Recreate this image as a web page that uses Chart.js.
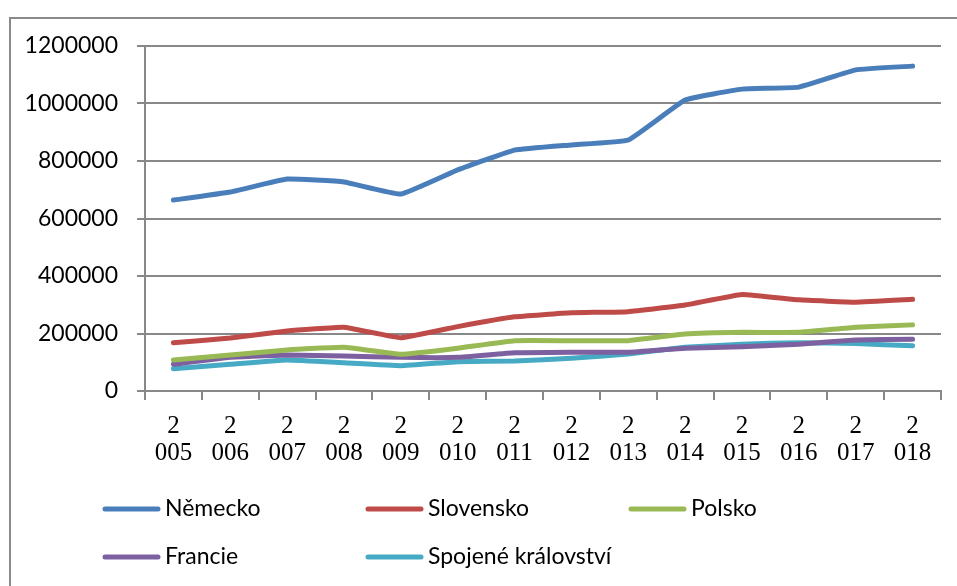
<!DOCTYPE html>
<html>
<head>
<meta charset="utf-8">
<script src="https://cdn.jsdelivr.net/npm/chart.js@4/dist/chart.umd.min.js"></script>
<style>
    body { margin: 0; background: #fff; overflow: hidden; }
    #ramecek { position: absolute; left: 9px; top: 17px; width: 1000px; height: 700px;
        border-left: 2px solid #8a8a8a; border-top: 2px solid #8a8a8a; }
    #graf { position: absolute; left: 0; top: 0; }
</style>
</head>
<body>
<div id="ramecek"></div>
<canvas id="graf" width="957" height="586"></canvas>
<script>
/*
 *   Graf vývoje podle zemí 2005-2018
 */

var roky = ['2005', '2006', '2007', '2008', '2009', '2010', '2011', '2012', '2013', '2014', '2015', '2016', '2017', '2018'];

var nemecko = [664000, 692000, 737000, 727000, 685000, 769000, 838000, 856000, 873000, 1012000, 1050000, 1057000, 1117000, 1130000];
var slovensko = [168000, 184000, 209000, 222000, 185000, 224000, 258000, 272000, 276000, 299000, 336000, 317000, 309000, 319000];
var polsko = [108000, 125000, 143000, 152000, 128000, 149000, 175000, 175000, 175000, 198000, 204000, 204000, 222000, 230000];
var francie = [93000, 117000, 125000, 122000, 117000, 117000, 133000, 135000, 135000, 149000, 154000, 163000, 177000, 180000];
var spojene = [77000, 93000, 108000, 98000, 88000, 102000, 104000, 114000, 129000, 152000, 163000, 168000, 165000, 157000];

var yTicks = [0, 200000, 400000, 600000, 800000, 1000000, 1200000];

var seda = '#888888';

// popisky osy x jsou zalomene: "2" a "005"
var popisky = roky.map(function(r) { return [r.substring(0, 1), r.substring(1)]; });

function serie(nazev, data, barva) {
    return {
        label: nazev,
        data: data,
        borderColor: barva,
        backgroundColor: barva,
        borderWidth: 5,
        pointRadius: 0,
        tension: 0.1,
        borderJoinStyle: 'round',
        borderCapStyle: 'round'
    };
}

// legenda v mrizce jako v Excelu
var legenda = {
    id: 'legenda',
    afterDraw: function(chart) {
        var ctx = chart.ctx;
        ctx.save();
        ctx.font = '23px Lato';
        ctx.textBaseline = 'middle';
        ctx.textAlign = 'left';
        chart.data.datasets.forEach(function(ds, i) {
            var x = 105 + (i % 3) * 263;
            var y = 509 + Math.floor(i / 3) * 48;
            ctx.strokeStyle = ds.borderColor;
            ctx.lineWidth = 5;
            ctx.lineCap = 'round';
            ctx.beginPath();
            ctx.moveTo(x, y);
            ctx.lineTo(x + 53, y);
            ctx.stroke();
            ctx.fillStyle = '#000';
            ctx.fillText(ds.label, x + 60, y);
        });
        ctx.restore();
    }
};

var ctx = document.getElementById('graf').getContext('2d');
var myChart = new Chart(ctx, {
    type: 'line',
    data: {
        labels: popisky,
        datasets: [
            serie('Německo', nemecko, '#4A7EBB'),
            serie('Slovensko', slovensko, '#BE4B48'),
            serie('Polsko', polsko, '#98B954'),
            serie('Francie', francie, '#7D60A0'),
            serie('Spojené království', spojene, '#46AAC5')
        ]
    },
    options: {
        responsive: false,
        animation: false,
        layout: { padding: { left: 0, top: 46, right: 16, bottom: 0 } },
        plugins: {
            legend: { display: false },
            tooltip: { enabled: false }
        },
        scales: {
            x: {
                offset: true,
                grid: { offset: true, drawOnChartArea: false, drawTicks: true, tickLength: 9, color: seda, lineWidth: 2 },
                border: { display: true, color: seda, width: 2 },
                ticks: {
                    color: '#000',
                    font: { family: 'Liberation Serif', size: 25, lineHeight: 1.08 },
                    maxRotation: 0,
                    autoSkip: false,
                    padding: 13
                },
                afterFit: function(s) { s.height = 195; }
            },
            y: {
                min: 0,
                max: 1200000,
                afterBuildTicks: function(s) { s.ticks = yTicks.map(function(v) { return { value: v }; }); },
                grid: { color: seda, lineWidth: 2, tickLength: 8 },
                border: { display: true, color: seda, width: 2 },
                ticks: {
                    color: '#000',
                    font: { family: 'Lato', size: 23 },
                    padding: 19,
                    callback: function(v) { return String(v); }
                },
                afterFit: function(s) { s.width = 145; }
            }
        }
    },
    plugins: [legenda]
});
</script>
</body>
</html>
